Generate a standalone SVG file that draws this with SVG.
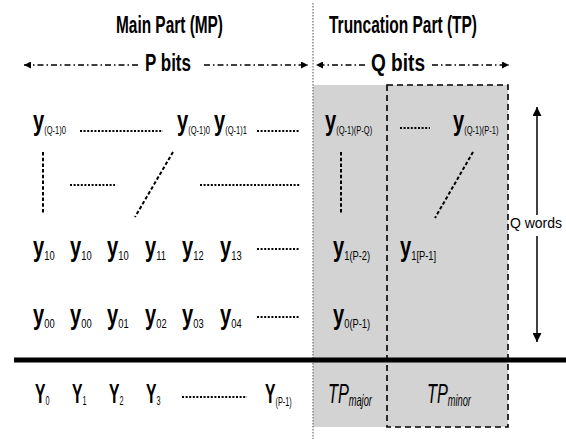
<svg xmlns="http://www.w3.org/2000/svg" width="566" height="439" viewBox="0 0 566 439">
<style>
.hd{font-family:"Liberation Sans",Arial,sans-serif;font-weight:bold;font-size:23px;fill:#000}
.y{font-family:"Liberation Sans",Arial,sans-serif;font-weight:bold;font-size:28px;fill:#000}
.s{font-weight:normal;font-size:13px}
.s1{font-weight:normal;font-size:10.5px}
.s2{font-weight:normal;font-size:10.5px}
.Y{font-family:"Liberation Sans",Arial,sans-serif;font-weight:bold;font-size:28px;fill:#000}
.Ys{font-weight:normal;font-size:13px}
.tp{font-family:"Liberation Sans",Arial,sans-serif;font-style:italic;font-size:28px;fill:#000}
.tps{font-size:16px}
.qw{font-family:"Liberation Sans",Arial,sans-serif;font-size:14px;fill:#000}
.dots{stroke:#000;stroke-width:2.2;stroke-dasharray:2 1.6;fill:none}
.vd{stroke:#000;stroke-width:2;stroke-dasharray:3.5 2.2;fill:none}
.dd{stroke:#000;stroke-width:1.4;stroke-dasharray:6 3 1.5 3;fill:none}
</style>
<defs>
<marker id="ah" viewBox="0 0 10 10" refX="10" refY="5" markerWidth="8" markerHeight="7" markerUnits="userSpaceOnUse" orient="auto-start-reverse">
<path d="M0,0 L10,5 L0,10 Z" fill="#000"/>
</marker>
<marker id="ah2" viewBox="0 0 10 10" refX="10" refY="5" markerWidth="11" markerHeight="9" markerUnits="userSpaceOnUse" orient="auto-start-reverse">
<path d="M0,0 L10,5 L0,10 Z" fill="#000"/>
</marker>
</defs>
<rect width="566" height="439" fill="#fff"/>

<g id="tp-region">
<rect x="313" y="85" width="195" height="342" fill="#d3d3d3"/>
<rect x="387" y="85" width="121" height="342" fill="none" stroke="#000" stroke-width="1.6" stroke-dasharray="6 4"/>
</g>

<g id="divider">
<line x1="313" y1="3" x2="313" y2="439" stroke="#777" stroke-width="1.3" stroke-dasharray="1.5 1.5"/>
<line x1="14" y1="360" x2="566" y2="360" stroke="#000" stroke-width="5"/>
</g>

<g id="headers">
<text class="hd" x="116" y="33" textLength="107" lengthAdjust="spacingAndGlyphs">Main Part (MP)</text>
<text class="hd" x="329" y="33" textLength="148" lengthAdjust="spacingAndGlyphs">Truncation Part (TP)</text>
<text class="hd" x="145" y="71" textLength="46" lengthAdjust="spacingAndGlyphs">P bits</text>
<text class="hd" x="371" y="71" textLength="54" lengthAdjust="spacingAndGlyphs">Q bits</text>
<text class="qw" x="510" y="228" textLength="52" lengthAdjust="spacingAndGlyphs">Q words</text>
</g>

<g id="connectors">
<path class="dd" d="M138,65 H24" marker-end="url(#ah)"/>
<path class="dd" d="M204,65 H308" marker-end="url(#ah)"/>
<path class="dd" d="M365,65 H316" marker-end="url(#ah)"/>
<path class="dd" d="M432,65 H509" marker-end="url(#ah)"/>
<path d="M537,215 V107" stroke="#000" stroke-width="1.5" fill="none" marker-end="url(#ah2)"/>
<path d="M537,236 V342" stroke="#000" stroke-width="1.5" fill="none" marker-end="url(#ah2)"/>
</g>

<g id="row-q1">
<text class="y" transform="translate(33,130) scale(0.72,1)">y<tspan class="s1" dy="4">(Q-1)0</tspan></text>
<text class="y" transform="translate(177,130) scale(0.72,1)">y<tspan class="s1" dy="4">(Q-1)0</tspan></text>
<text class="y" transform="translate(214,130) scale(0.72,1)">y<tspan class="s1" dy="4">(Q-1)1</tspan></text>
<text class="y" transform="translate(325,130) scale(0.72,1)">y<tspan class="s2" dy="4">(Q-1)(P-Q)</tspan></text>
<text class="y" transform="translate(453,130) scale(0.72,1)">y<tspan class="s2" dy="4">(Q-1)(P-1)</tspan></text>
<path class="dots" d="M80,131 H163 M257,131 H300 M400,128 H430"/>
</g>

<g id="row-ellipsis">
<path class="dots" d="M70,185 H115 M200,185 H300"/>
<path class="vd" d="M43,152 V213 M341,152 V213 M173,152 L135,217 M473,152 L435,218"/>
</g>

<g id="row-1">
<text class="y" transform="translate(33,256) scale(0.72,1)">y<tspan class="s" dy="4">10</tspan></text>
<text class="y" transform="translate(70,256) scale(0.72,1)">y<tspan class="s" dy="4">10</tspan></text>
<text class="y" transform="translate(107,256) scale(0.72,1)">y<tspan class="s" dy="4">10</tspan></text>
<text class="y" transform="translate(145,256) scale(0.72,1)">y<tspan class="s" dy="4">11</tspan></text>
<text class="y" transform="translate(182,256) scale(0.72,1)">y<tspan class="s" dy="4">12</tspan></text>
<text class="y" transform="translate(220,256) scale(0.72,1)">y<tspan class="s" dy="4">13</tspan></text>
<text class="y" transform="translate(333,256) scale(0.72,1)">y<tspan class="s" dy="4">1(P-2)</tspan></text>
<text class="y" transform="translate(400,256) scale(0.72,1)">y<tspan class="s" dy="4">1[P-1]</tspan></text>
<path class="dots" d="M257,249 H300"/>
</g>

<g id="row-0">
<text class="y" transform="translate(33,324) scale(0.72,1)">y<tspan class="s" dy="4">00</tspan></text>
<text class="y" transform="translate(70,324) scale(0.72,1)">y<tspan class="s" dy="4">00</tspan></text>
<text class="y" transform="translate(107,324) scale(0.72,1)">y<tspan class="s" dy="4">01</tspan></text>
<text class="y" transform="translate(145,324) scale(0.72,1)">y<tspan class="s" dy="4">02</tspan></text>
<text class="y" transform="translate(182,324) scale(0.72,1)">y<tspan class="s" dy="4">03</tspan></text>
<text class="y" transform="translate(220,324) scale(0.72,1)">y<tspan class="s" dy="4">04</tspan></text>
<text class="y" transform="translate(333,324) scale(0.72,1)">y<tspan class="s" dy="4">0(P-1)</tspan></text>
<path class="dots" d="M257,317 H300"/>
</g>

<g id="row-result">
<text class="Y" transform="translate(35,403) scale(0.56,1)">Y<tspan class="Ys" dy="2">0</tspan></text>
<text class="Y" transform="translate(72,403) scale(0.56,1)">Y<tspan class="Ys" dy="2">1</tspan></text>
<text class="Y" transform="translate(109,403) scale(0.56,1)">Y<tspan class="Ys" dy="2">2</tspan></text>
<text class="Y" transform="translate(146,403) scale(0.56,1)">Y<tspan class="Ys" dy="2">3</tspan></text>
<text class="Y" transform="translate(265,403) scale(0.56,1)">Y<tspan class="Ys" dy="3">(P-1)</tspan></text>
<path class="dots" d="M182,397 H247"/>
<text class="tp" transform="translate(328,403) scale(0.58,1)">TP<tspan class="tps" dy="3">major</tspan></text>
<text class="tp" transform="translate(427,403) scale(0.58,1)">TP<tspan class="tps" dy="3">minor</tspan></text>
</g>
</svg>
